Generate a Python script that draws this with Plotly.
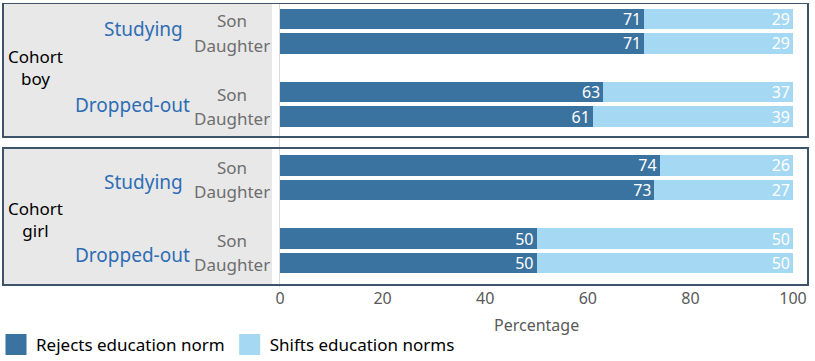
import plotly.graph_objects as go

# ---- data ----
row_labels = ["Son", "Daughter", "Son", "Daughter", "Son", "Daughter", "Son", "Daughter"]
row_pos = [0, 1, 3, 4, 6, 7, 9, 10]
status_labels = ["Studying", "Dropped-out", "Studying", "Dropped-out"]
cohort_labels = ["Cohort<br>boy", "Cohort<br>girl"]
rejects = [71, 71, 63, 61, 74, 73, 50, 50]
shifts = [29, 29, 37, 39, 26, 27, 50, 50]
series_names = ["Rejects education norm", "Shifts education norms"]
x_ticks = [0, 20, 40, 60, 80, 100]
x_title = "Percentage"

DARK = "#3a73a0"
LIGHT = "#a4d8f3"
BORDER = "#3d5468"
FONT = "Noto Sans"

W, H = 815, 361
ML, MR, MT, MB = 280, 22, 3, 74
PW = W - ML - MR
PH = H - MT - MB
SLOT = 24.4
Y0 = -(19 - MT) / SLOT
Y1 = 10 + (MT + PH - 263) / SLOT


def px_to_xpaper(px):
    return (px - ML) / PW


def py_to_ypaper(py):
    return 1 - (py - MT) / PH


def py_to_ydata(py):
    return Y0 + (py - MT) / SLOT


fig = go.Figure()
for name, vals, col in [(series_names[0], rejects, DARK), (series_names[1], shifts, LIGHT)]:
    fig.add_trace(go.Bar(
        y=row_pos, x=vals, orientation="h", name=name,
        marker=dict(color=col, line=dict(width=0)),
        text=[str(v) for v in vals], textposition="inside", insidetextanchor="end",
        textangle=0, constraintext="none",
        textfont=dict(color="white", size=16, family=FONT),
        width=0.84, showlegend=False, hoverinfo="skip",
    ))
    fig.add_trace(go.Scatter(
        x=[None], y=[None], mode="markers", name=name,
        marker=dict(symbol="square", size=16, color=col, line=dict(color=col, width=7)),
    ))

shapes = []
# cohort boxes
boxes = [(3, 137), (148, 285)]
for top, bot in boxes:
    shapes.append(dict(type="rect", xref="paper", yref="y",
                       x0=px_to_xpaper(3), x1=px_to_xpaper(272),
                       y0=py_to_ydata(top), y1=py_to_ydata(bot),
                       fillcolor="#e8e8e8", line=dict(width=0), layer="below"))
    shapes.append(dict(type="rect", xref="paper", yref="y",
                       x0=px_to_xpaper(3), x1=px_to_xpaper(808),
                       y0=py_to_ydata(top), y1=py_to_ydata(bot),
                       fillcolor="rgba(0,0,0,0)", line=dict(color=BORDER, width=2), layer="above"))

annotations = []
for lbl, yp in zip(row_labels, row_pos):
    annotations.append(dict(text=lbl, xref="paper", yref="y", x=px_to_xpaper(231.5), y=yp + 0.08,
                            xanchor="center", yanchor="middle", showarrow=False,
                            font=dict(family=FONT, size=17, color="#6e6e6e")))
status_pos = [(143, 29, "center"), (192, 105, "right"), (143, 182, "center"), (192, 255, "right")]
for lbl, (px, py, anc) in zip(status_labels, status_pos):
    annotations.append(dict(text=lbl, xref="paper", yref="y", x=px_to_xpaper(px), y=py_to_ydata(py),
                            xanchor=anc, yanchor="middle", showarrow=False,
                            font=dict(family=FONT, size=19, color="#2e6db5")))
cohort_pos = [67, 219]
for lbl, py in zip(cohort_labels, cohort_pos):
    annotations.append(dict(text=lbl, xref="paper", yref="y", x=px_to_xpaper(35), y=py_to_ydata(py),
                            xanchor="center", yanchor="middle", showarrow=False, align="center",
                            font=dict(family=FONT, size=17, color="black")))
# x-axis title
annotations.append(dict(text=x_title, xref="paper", yref="paper", x=0.5, y=py_to_ypaper(325),
                        xanchor="center", yanchor="middle", showarrow=False,
                        font=dict(family=FONT, size=16, color="#595959")))

fig.update_layout(
    width=W, height=H, margin=dict(l=ML, r=MR, t=MT, b=MB, autoexpand=False),
    barmode="stack", plot_bgcolor="white", paper_bgcolor="white",
    font=dict(family=FONT),
    xaxis=dict(range=[0, 100], tickvals=x_ticks, ticktext=[str(t) for t in x_ticks],
               showgrid=False, zeroline=False, showline=False,
               tickfont=dict(size=16, color="#595959"),
               fixedrange=True),
    yaxis=dict(range=[Y1, Y0], showticklabels=False, showgrid=False, zeroline=False,
               showline=True, linecolor="#d9d9d9", linewidth=1, fixedrange=True),
    legend=dict(orientation="h", xref="paper", yref="paper",
                x=px_to_xpaper(-4), xanchor="left", y=py_to_ypaper(345), yanchor="middle",
                font=dict(size=17, color="black", family=FONT), itemsizing="trace",
                traceorder="normal", bgcolor="rgba(0,0,0,0)"),
    shapes=shapes, annotations=annotations,
)

fig.write_html("out.html", config={"displayModeBar": False},
               post_script="document.body.style.margin='0';")
